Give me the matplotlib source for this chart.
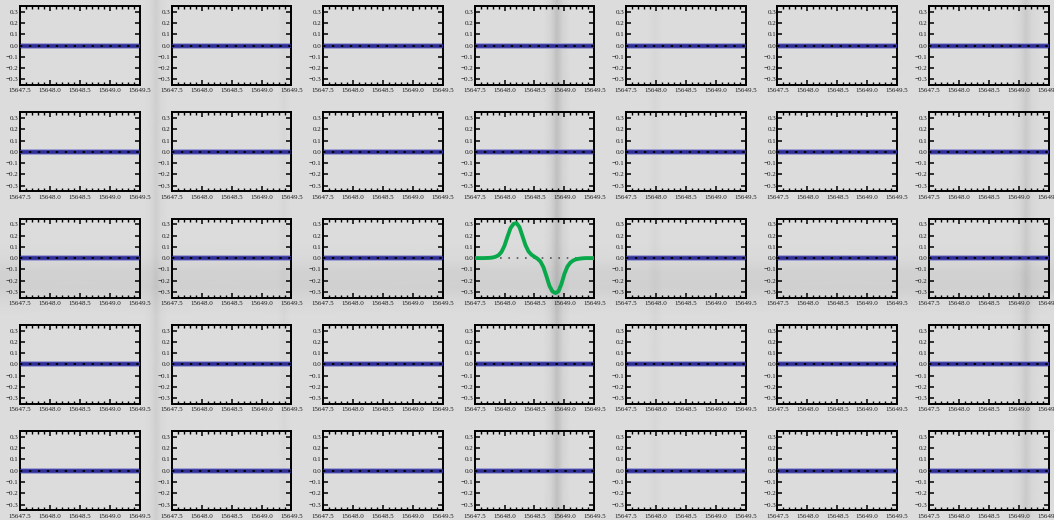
import numpy as np
import matplotlib
matplotlib.use("Agg")
import matplotlib.pyplot as plt
from matplotlib.ticker import MultipleLocator, FuncFormatter

plt.rcParams['font.family'] = ['Liberation Serif', 'DejaVu Serif']
plt.rcParams['font.size'] = 5

# ---------------- data ----------------
wavelength = [15647.50, 15647.55, 15647.60, 15647.65, 15647.70, 15647.75, 15647.80,
              15647.85, 15647.90, 15647.95, 15648.00, 15648.05, 15648.10, 15648.15,
              15648.20, 15648.25, 15648.30, 15648.35, 15648.40, 15648.45, 15648.50,
              15648.55, 15648.60, 15648.65, 15648.70, 15648.75, 15648.80, 15648.85,
              15648.90, 15648.95, 15649.00, 15649.05, 15649.10, 15649.15, 15649.20,
              15649.25, 15649.30, 15649.35, 15649.40, 15649.45, 15649.50]
stokes_v_center = [0.0, 0.0, 0.0, 0.0, 0.001, 0.002, 0.005,
                   0.012, 0.025, 0.055, 0.11, 0.19, 0.265, 0.303,
                   0.31, 0.275, 0.195, 0.115, 0.06, 0.03, 0.012,
                   -0.005, -0.03, -0.08, -0.16, -0.245, -0.295, -0.31,
                   -0.295, -0.23, -0.14, -0.075, -0.04, -0.02, -0.01,
                   -0.005, -0.002, 0.0, 0.0, 0.0, 0.0]
stokes_v_flat = [0.0] * len(wavelength)
zero_level = [0.0] * len(wavelength)

n_rows, n_cols = 5, 7
active_panel = (2, 3)

x_ticks_major = 0.5
x_ticks_minor = 0.1
y_ticks_major = 0.1
x_limits = (15647.5, 15649.5)
y_limits = (-0.35, 0.35)

# background gray profile (figure pixel coords)
bg_x = [0, 145, 151, 156, 161, 167, 278, 284, 290, 544, 551, 557, 563, 570,
        648, 655, 662, 1012, 1020, 1026, 1032, 1040, 1054]
bg_xv = [0, 0, -0.015, -0.05, -0.015, 0, 0, -0.02, 0, 0, -0.03, -0.11, -0.03, 0,
         0, -0.02, 0, 0, -0.02, -0.07, -0.02, 0, 0]
bg_y = [0, 100, 200, 240, 258, 272, 288, 300, 315, 520]
bg_yv = [0.0, 0.0, 0.0, 0.0, -0.01, -0.04, -0.045, -0.02, 0.0, 0.0]
bg_base = 0.86

# ---------------- figure ----------------
W, H = 1054, 520
fig = plt.figure(figsize=(W / 100, H / 100), dpi=100)

bg = fig.add_axes([0, 0, 1, 1], zorder=-10)
X, Y = np.meshgrid(bg_x, bg_y)
C = bg_base + np.add.outer(np.array(bg_yv), np.array(bg_xv))
bg.pcolormesh(X, Y, C, shading='gouraud', cmap='gray', vmin=0, vmax=1)
bg.set_xlim(0, W)
bg.set_ylim(H, 0)
bg.axis('off')

left0, col_pitch, ax_w = 20.2, 151.45, 119.8
top0, row_pitch, ax_h = 6.0, 106.3, 79.0

fmt_x = FuncFormatter(lambda v, p: f"{v:.1f}")
def _fy(v, p):
    s = f"{v:.1f}"
    if s == "-0.0":
        s = "0.0"
    return s.replace('-', '\u2212')
fmt_y = FuncFormatter(_fy)

for r in range(n_rows):
    for c in range(n_cols):
        left = (left0 + c * col_pitch) / W
        bottom = 1 - (top0 + r * row_pitch + ax_h) / H
        ax = fig.add_axes([left, bottom, ax_w / W, ax_h / H])
        ax.set_facecolor('none')
        if (r, c) == active_panel:
            ax.plot(wavelength, zero_level, color='#555555', lw=1.2,
                    linestyle=(0, (1.0, 4.0)), zorder=2)
            ax.plot(wavelength, stokes_v_center, color='#09a84a', lw=2.8,
                    solid_capstyle='round', zorder=3)
        else:
            ax.plot(wavelength, stokes_v_flat, color='#9a9ad0', lw=4.2, zorder=2)
            ax.plot(wavelength, stokes_v_flat, color='#2e2e96', lw=2.6, zorder=3)
            ax.plot(wavelength, zero_level, color='black', lw=1.4,
                    linestyle=(0, (1.2, 3.4)), zorder=4)
        ax.set_xlim(*x_limits)
        ax.set_ylim(*y_limits)
        ax.xaxis.set_major_locator(MultipleLocator(x_ticks_major))
        ax.xaxis.set_minor_locator(MultipleLocator(x_ticks_minor))
        ax.yaxis.set_major_locator(MultipleLocator(y_ticks_major))
        ax.xaxis.set_major_formatter(fmt_x)
        ax.yaxis.set_major_formatter(fmt_y)
        ax.tick_params(which='both', direction='in', top=True, right=True,
                       colors='black', labelsize=5)
        ax.tick_params(which='major', length=3.6, width=1.1)
        ax.tick_params(which='minor', length=2.0, width=1.0)
        ax.tick_params(axis='x', which='major', pad=2.5)
        ax.tick_params(axis='y', which='major', pad=1.0)
        for lab in ax.get_xticklabels() + ax.get_yticklabels():
            lab.set_fontfamily('Liberation Serif')
            lab.set_color('#1a1a1a')
        for sp in ax.spines.values():
            sp.set_linewidth(1.4)
            sp.set_color('black')

fig.savefig('out.png', dpi=100)
